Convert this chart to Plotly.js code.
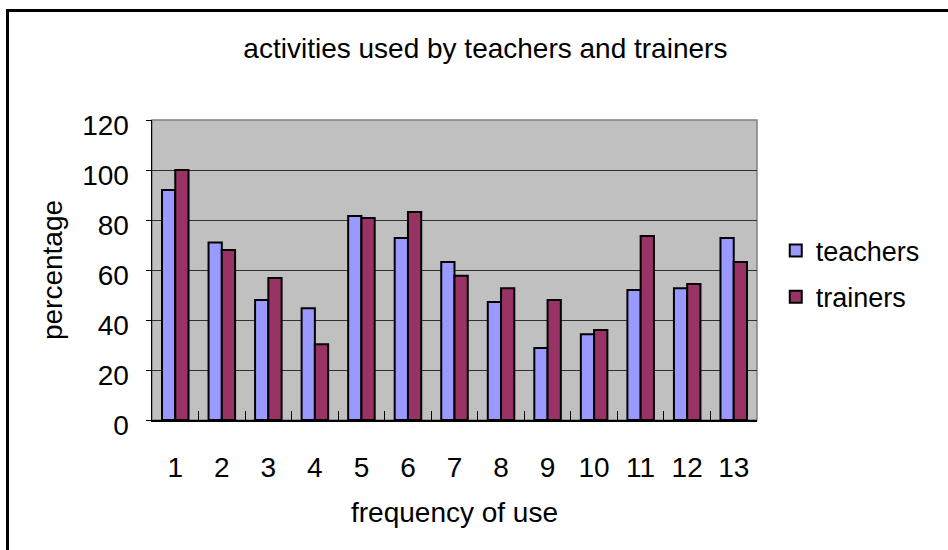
<!DOCTYPE html>
<html>
<head>
<meta charset="utf-8">
<script src="https://cdn.plot.ly/plotly-3.0.1.min.js"></script>
<style>
  html, body { margin: 0; padding: 0; background: #fff; overflow: hidden; }
  #chart { width: 948px; height: 550px; position: absolute; left: 0; top: 0; }
  #frame { position: absolute; left: 6px; top: 9px; width: 1000px; height: 1000px;
           border: 3px solid #000; pointer-events: none; box-sizing: border-box; }
</style>
</head>
<body>
<div id="chart"></div>
<div id="frame"></div>
<script>
const categories = ["1","2","3","4","5","6","7","8","9","10","11","12","13"];
const teachers = [92, 71, 48, 44.7, 81.6, 72.8, 63.2, 47.2, 28.8, 34.3, 52, 52.7, 72.8];
const trainers = [100, 68, 56.8, 30.3, 80.8, 83.2, 57.7, 52.7, 48, 36, 73.6, 54.4, 63.2];
const yTicks = [0, 20, 40, 60, 80, 100, 120];

const FONT = "Liberation Sans, Arial, sans-serif";

const traces = [
  {
    type: "bar", name: "teachers", x: categories, y: teachers,
    marker: { color: "#9999FF", line: { color: "#000000", width: 2 } },
    legendgroup: "a", hoverinfo: "x+y"
  },
  {
    type: "bar", name: "trainers", x: categories, y: trainers,
    marker: { color: "#993366", line: { color: "#000000", width: 2 } },
    legendgroup: "b", hoverinfo: "x+y"
  }
];

const layout = {
  width: 948, height: 550,
  margin: { l: 152, r: 191, t: 120, b: 130, pad: 0 },
  paper_bgcolor: "#ffffff",
  plot_bgcolor: "#C0C0C0",
  font: { family: FONT, color: "#000000", size: 26 },
  title: {
    text: "activities used by teachers and trainers",
    font: { family: FONT, size: 28, color: "#000" },
    xref: "container", x: 0.512, xanchor: "center",
    yref: "container", y: 0.912, yanchor: "middle"
  },
  barmode: "group",
  bargap: 0.43,
  bargroupgap: 0,
  xaxis: {
    type: "category",
    tickvals: categories,
    ticktext: categories,
    showline: true, linecolor: "#000", linewidth: 1.5,
    ticks: "inside", tickson: "boundaries", ticklen: 9, tickcolor: "#000", tickwidth: 1,
    showgrid: false, zeroline: false,
    tickfont: { family: FONT, size: 28, color: "#000" },
    ticklabelstandoff: 22,
    title: { text: "frequency of use", font: { family: FONT, size: 28, color: "#000" }, standoff: 20 },
    automargin: false, fixedrange: true
  },
  yaxis: {
    range: [0, 120],
    tickvals: yTicks,
    ticktext: yTicks.map(String),
    showline: true, linecolor: "#000", linewidth: 1.5,
    ticks: "outside", ticklen: 5, tickcolor: "#000", tickwidth: 1,
    showgrid: true, gridcolor: "#303030", gridwidth: 1,
    zeroline: false,
    tickfont: { family: FONT, size: 28, color: "#000" },
    ticklabelstandoff: 11,
    ticklabelshift: 5,
    title: { text: "percentage", font: { family: FONT, size: 28, color: "#000" }, standoff: 11 },
    automargin: false, fixedrange: true
  },
  showlegend: true,
  legend: {
    x: 1.031, xanchor: "left", y: 0.645, yanchor: "top",
    bgcolor: "rgba(0,0,0,0)", borderwidth: 0,
    font: { family: FONT, size: 27, color: "#000" },
    traceorder: "grouped", tracegroupgap: 8,
    itemwidth: 30
  },
  shapes: [
    { type: "rect", xref: "paper", yref: "paper", x0: 0, x1: 1, y0: 0, y1: 1,
      line: { color: "#808080", width: 1.5 }, layer: "below" }
  ]
};

Plotly.newPlot("chart", traces, layout, { displayModeBar: false, staticPlot: true });
</script>
</body>
</html>
